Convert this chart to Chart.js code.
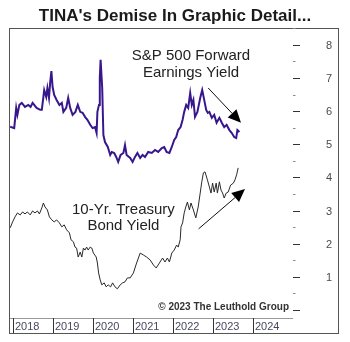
<!DOCTYPE html>
<html>
<head>
<meta charset="utf-8">
<script src="https://cdn.jsdelivr.net/npm/chart.js@4.4.1/dist/chart.umd.min.js"></script>
<style>
    html, body { margin: 0; padding: 0; background: #fff; }
    #wrap { width: 350px; height: 342px; }
</style>
</head>
<body>
<div id="wrap"><canvas id="tinaChart" width="350" height="342"></canvas></div>
<script>
/* ── Data (decimal years, yields in %) ───────────────────────────── */

const spDates = [
    2017.93, 2018.03, 2018.08, 2018.11, 2018.16, 2018.22, 2018.30, 2018.38, 2018.44, 2018.49,
    2018.59, 2018.68, 2018.72, 2018.76, 2018.78, 2018.83, 2018.86, 2018.90, 2018.93, 2018.96,
    2018.99, 2019.03, 2019.09, 2019.16, 2019.22, 2019.26, 2019.33, 2019.38, 2019.43, 2019.49,
    2019.56, 2019.62, 2019.68, 2019.74, 2019.80, 2019.86, 2019.93, 2019.99, 2020.05, 2020.09,
    2020.11, 2020.15, 2020.17, 2020.19, 2020.23, 2020.26, 2020.30, 2020.37, 2020.43, 2020.47,
    2020.53, 2020.58, 2020.63, 2020.69, 2020.76, 2020.80, 2020.84, 2020.93, 2020.99, 2021.05,
    2021.11, 2021.18, 2021.24, 2021.30, 2021.38, 2021.47, 2021.55, 2021.63, 2021.72, 2021.78,
    2021.84, 2021.91, 2021.97, 2022.03, 2022.08, 2022.13, 2022.19, 2022.24, 2022.28, 2022.33,
    2022.38, 2022.43, 2022.47, 2022.51, 2022.55, 2022.61, 2022.68, 2022.73, 2022.78, 2022.83,
    2022.87, 2022.91, 2022.97, 2023.03, 2023.09, 2023.16, 2023.22, 2023.28, 2023.34, 2023.41,
    2023.47, 2023.53, 2023.58, 2023.61, 2023.66
];
const spYield = [
    5.53, 5.49, 6.10, 5.89, 6.19, 6.25, 6.13, 6.19, 6.13, 6.25,
    6.10, 6.04, 6.04, 6.43, 6.64, 6.43, 6.70, 6.40, 6.88, 7.21,
    6.73, 6.49, 6.34, 6.19, 6.25, 5.98, 6.10, 6.40, 6.10, 5.89,
    5.98, 6.19, 5.98, 5.95, 5.83, 5.74, 5.59, 5.49, 5.52, 5.34,
    5.98, 6.19, 7.00, 7.55, 6.70, 5.28, 5.07, 4.92, 4.68, 4.77,
    4.74, 4.62, 4.47, 4.68, 4.74, 4.98, 4.68, 4.59, 4.47, 4.62,
    4.74, 4.59, 4.68, 4.62, 4.77, 4.74, 4.83, 4.77, 4.89, 4.92,
    4.77, 4.74, 4.92, 5.13, 5.22, 5.43, 5.52, 5.74, 5.98, 6.19,
    6.10, 6.55, 6.19, 6.34, 5.83, 5.98, 6.40, 6.64, 6.34, 6.04,
    5.95, 5.98, 5.80, 5.89, 5.65, 5.80, 5.65, 5.52, 5.59, 5.43,
    5.34, 5.22, 5.19, 5.43, 5.37
];

const tsyDates = [
    2017.93, 2017.99, 2018.05, 2018.11, 2018.18, 2018.24, 2018.30, 2018.36, 2018.43, 2018.49,
    2018.55, 2018.61, 2018.66, 2018.72, 2018.76, 2018.80, 2018.86, 2018.91, 2018.97, 2019.03,
    2019.09, 2019.16, 2019.22, 2019.28, 2019.34, 2019.41, 2019.45, 2019.51, 2019.55, 2019.59,
    2019.63, 2019.68, 2019.72, 2019.76, 2019.80, 2019.84, 2019.88, 2019.93, 2019.97, 2020.01,
    2020.08, 2020.11, 2020.14, 2020.18, 2020.22, 2020.28, 2020.33, 2020.38, 2020.44, 2020.49,
    2020.55, 2020.61, 2020.68, 2020.74, 2020.80, 2020.86, 2020.93, 2021.01, 2021.09, 2021.18,
    2021.26, 2021.34, 2021.43, 2021.51, 2021.58, 2021.66, 2021.74, 2021.80, 2021.86, 2021.91,
    2021.97, 2022.03, 2022.09, 2022.13, 2022.18, 2022.20, 2022.24, 2022.28, 2022.32, 2022.36,
    2022.41, 2022.45, 2022.51, 2022.57, 2022.63, 2022.68, 2022.72, 2022.76, 2022.80, 2022.86,
    2022.91, 2022.95, 2022.99, 2023.03, 2023.08, 2023.11, 2023.16, 2023.20, 2023.24, 2023.28,
    2023.33, 2023.38, 2023.44, 2023.51, 2023.55, 2023.59, 2023.63
];
const tsyYield = [
    2.48, 2.66, 2.81, 2.93, 2.87, 2.96, 2.90, 2.96, 2.87, 2.99,
    2.93, 2.99, 2.90, 3.08, 3.23, 3.11, 3.02, 2.81, 2.72, 2.66,
    2.72, 2.63, 2.51, 2.57, 2.42, 2.33, 2.12, 2.06, 1.90, 1.87,
    1.60, 1.75, 1.60, 1.87, 1.81, 1.90, 1.81, 1.90, 1.87, 1.72,
    1.60, 1.42, 1.12, 0.91, 0.76, 0.82, 0.70, 0.76, 0.70, 0.82,
    0.70, 0.64, 0.76, 0.82, 0.85, 0.97, 0.97, 1.12, 1.42, 1.72,
    1.66, 1.60, 1.51, 1.36, 1.27, 1.42, 1.57, 1.45, 1.57, 1.45,
    1.72, 1.81, 1.96, 1.90, 2.12, 2.51, 2.63, 2.93, 3.11, 3.26,
    3.02, 3.23, 3.02, 2.78, 3.11, 3.53, 3.87, 4.14, 4.17, 3.93,
    3.71, 3.53, 3.83, 3.56, 3.83, 3.53, 3.87, 3.62, 3.53, 3.38,
    3.53, 3.56, 3.77, 3.83, 3.93, 4.08, 4.29
];

const yearTicks  = [2018, 2019, 2020, 2021, 2022, 2023, 2024];
const yTicks     = [0, 0.5, 1, 1.5, 2, 2.5, 3, 3.5, 4, 4.5, 5, 5.5, 6, 6.5, 7, 7.5, 8, 8.5];

const chartTitle = "TINA's Demise In Graphic Detail...";
const spLabel    = ['S&P 500 Forward', 'Earnings Yield'];
const tsyLabel   = ['10-Yr. Treasury', 'Bond Yield'];
const creditText = '\u00A9 2023 The Leuthold Group';

/* ── Annotation anchors, in data units ───────────────────────────── */

const notes = {
    sp:     { x: 2022.45, y: [7.55, 7.04] },
    tsy:    { x: 2020.76, y: [2.89, 2.42] },
    credit: { x: 2024.90, y: 0.0 },
    arrowSp:  { from: [2022.88, 6.70], to: [2023.70, 5.65] },
    arrowTsy: { from: [2022.64, 2.45], to: [2023.80, 3.65] }
};

const FONT = '"Liberation Sans", Arial, sans-serif';

/* ── Helpers ─────────────────────────────────────────────────────── */

function toPoints(xs, ys) {
    return xs.map((x, i) => ({ x, y: ys[i] }));
}

function drawArrow(ctx, x0, y0, x1, y1) {
    const ang  = Math.atan2(y1 - y0, x1 - x0);
    const head = 13, half = 6;
    const bx = x1 - head * Math.cos(ang);
    const by = y1 - head * Math.sin(ang);

    ctx.strokeStyle = '#111';
    ctx.lineWidth = 1;
    ctx.beginPath();
    ctx.moveTo(x0, y0);
    ctx.lineTo(bx, by);
    ctx.stroke();

    ctx.fillStyle = '#000';
    ctx.beginPath();
    ctx.moveTo(x1, y1);
    ctx.lineTo(bx + half * Math.sin(ang), by - half * Math.cos(ang));
    ctx.lineTo(bx - half * Math.sin(ang), by + half * Math.cos(ang));
    ctx.closePath();
    ctx.fill();
}

/* ── Decorations: frame, axes, labels ────────────────────────────── */

const decorPlugin = {
    id: 'decor',
    beforeDraw(chart) {
        const ctx = chart.ctx;
        ctx.save();
        ctx.fillStyle = '#fff';
        ctx.fillRect(0, 0, chart.width, chart.height);
        ctx.restore();
    },
    afterDraw(chart) {
        const ctx  = chart.ctx;
        const area = chart.chartArea;
        const xs   = chart.scales.x;
        const ys   = chart.scales.y;
        const frameRight  = 338;
        const frameBottom = 333;

        ctx.save();

        // title
        ctx.font = `bold 17px ${FONT}`;
        ctx.fillStyle = '#1a1a1a';
        ctx.textBaseline = 'alphabetic';
        const tw = ctx.measureText(chartTitle).width;
        const fit = Math.min(1, 282 / tw);
        ctx.save();
        ctx.translate(175, 21);
        ctx.scale(fit, 1);
        ctx.textAlign = 'center';
        ctx.fillText(chartTitle, 0, 0);
        ctx.restore();

        // frame
        ctx.strokeStyle = '#555';
        ctx.lineWidth = 1;
        ctx.strokeRect(area.left - 0.5, area.top - 0.5, frameRight - area.left + 1, frameBottom - area.top + 1);

        // x axis band
        ctx.strokeStyle = '#999';
        ctx.beginPath();
        ctx.moveTo(area.left, area.bottom + 0.5);
        ctx.lineTo(area.right, area.bottom + 0.5);
        ctx.stroke();

        ctx.font = `11px ${FONT}`;
        ctx.textAlign = 'left';
        yearTicks.forEach(yr => {
            const px = Math.round(xs.getPixelForValue(yr)) + 0.5;
            ctx.strokeStyle = '#333';
            ctx.beginPath();
            ctx.moveTo(px, area.bottom);
            ctx.lineTo(px, frameBottom);
            ctx.stroke();
            ctx.fillStyle = '#474760';
            ctx.fillText(String(yr), px + 1.5, 330);
        });

        // y ticks on the right
        ctx.textAlign = 'right';
        ctx.textBaseline = 'middle';
        yTicks.forEach(v => {
            const py = Math.round(ys.getPixelForValue(v)) + 0.5;
            const major = Number.isInteger(v);
            ctx.strokeStyle = major ? '#333' : '#888';
            ctx.beginPath();
            ctx.moveTo(area.right, py);
            ctx.lineTo(area.right + (major ? 7 : 2.5), py);
            ctx.stroke();
            if (major && v > 0) {
                ctx.fillStyle = '#4a4a4a';
                ctx.font = `11px ${FONT}`;
                ctx.fillText(String(v), 332, py);
            }
        });

        // series labels
        ctx.textBaseline = 'alphabetic';
        ctx.textAlign = 'center';
        ctx.fillStyle = '#222';
        ctx.font = `15px ${FONT}`;
        spLabel.forEach((t, i) => ctx.fillText(t, xs.getPixelForValue(notes.sp.x), ys.getPixelForValue(notes.sp.y[i])));
        tsyLabel.forEach((t, i) => ctx.fillText(t, xs.getPixelForValue(notes.tsy.x), ys.getPixelForValue(notes.tsy.y[i])));

        // credit
        ctx.textAlign = 'right';
        ctx.font = `bold 10px ${FONT}`;
        ctx.fillStyle = '#333';
        ctx.fillText(creditText, xs.getPixelForValue(notes.credit.x), ys.getPixelForValue(notes.credit.y));

        // arrows
        [notes.arrowSp, notes.arrowTsy].forEach(a => {
            drawArrow(ctx,
                xs.getPixelForValue(a.from[0]), ys.getPixelForValue(a.from[1]),
                xs.getPixelForValue(a.to[0]),   ys.getPixelForValue(a.to[1]));
        });

        ctx.restore();
    }
};

/* ── Chart ───────────────────────────────────────────────────────── */

new Chart(document.getElementById('tinaChart'), {
    type: 'line',
    data: {
        datasets: [
            {
                label: '10-Yr. Treasury Bond Yield',
                data: toPoints(tsyDates, tsyYield),
                borderColor: '#2a2a2a',
                borderWidth: 1,
                pointRadius: 0,
                tension: 0
            },
            {
                label: 'S&P 500 Forward Earnings Yield',
                data: toPoints(spDates, spYield),
                borderColor: '#38178c',
                borderWidth: 2,
                pointRadius: 0,
                tension: 0
            }
        ]
    },
    options: {
        responsive: false,
        animation: false,
        devicePixelRatio: 1,
        layout: { padding: { left: 10, top: 29, right: 57, bottom: 24 } },
        plugins: {
            legend: { display: false },
            tooltip: { enabled: false },
            title: { display: false }
        },
        scales: {
            x: { type: 'linear', min: 2017.925, max: 2025.0, display: false },
            y: { type: 'linear', min: -0.24, max: 8.48, display: false }
        }
    },
    plugins: [decorPlugin]
});
</script>
</body>
</html>
